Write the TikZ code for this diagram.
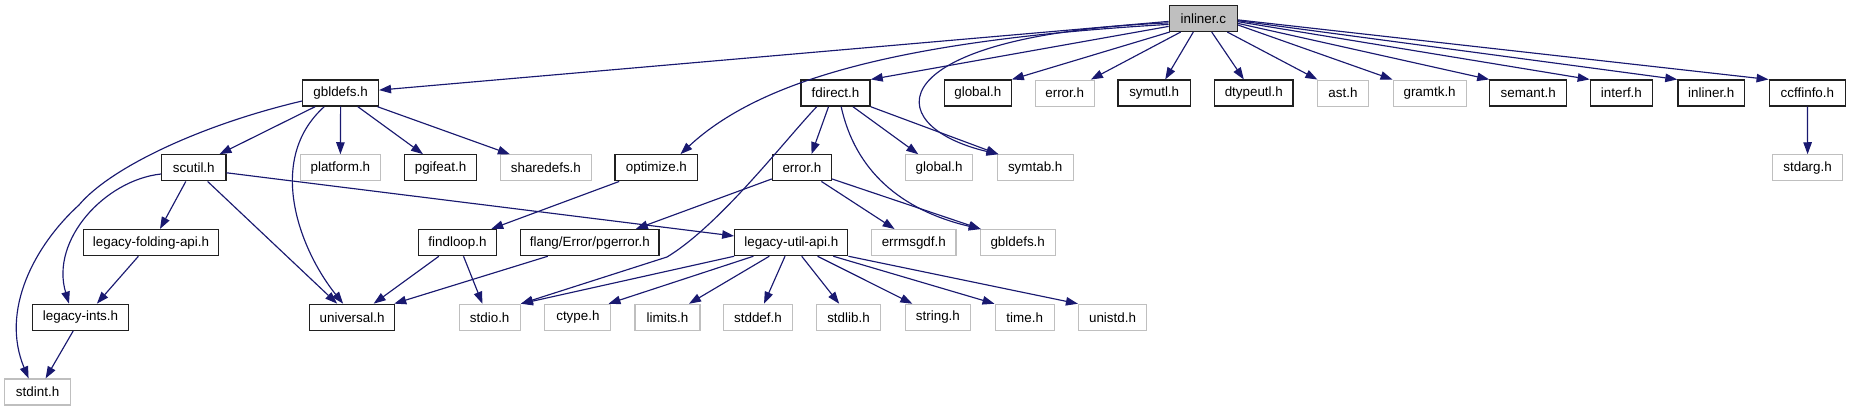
\documentclass[tikz,border=0pt]{standalone}
\usepackage{fontspec}
\setmainfont{Liberation Sans}
\usetikzlibrary{arrows.meta}
\definecolor{edgecol}{HTML}{191970}
\definecolor{greyb}{HTML}{BFBFBF}
\definecolor{darkb}{HTML}{202020}
\tikzset{
  nb/.style={draw=darkb, line width=1.3pt, rectangle, minimum height=26pt, inner sep=0pt, fill=white, font=\fontsize{13.4}{15}\selectfont},
  ng/.style={nb, draw=greyb, line width=1.1pt},
  nm/.style={nb, fill=greyb},
  dep/.style={draw=edgecol, line width=1.15pt, -{Triangle[length=12pt,width=8.5pt]}}
}
\begin{document}
\begin{tikzpicture}[x=1pt,y=-1pt]
\useasboundingbox (0,0) rectangle (1851,411);
% rank 0
\node[nm, minimum width=68pt] (inl) at (1203.3,18.4) {inliner.c};
% rank 1
\node[nb, minimum width=75.6pt] (gbl1) at (340.6,93.1) {gbldefs.h};
\node[nb, minimum width=69.2pt] (fdir) at (835.5,93.1) {fdirect.h};
\node[nb, minimum width=66.8pt] (glob1) at (977.8,93.1) {global.h};
\node[ng, minimum width=59.3pt] (err1) at (1064.7,93.1) {error.h};
\node[nb, minimum width=72.4pt] (symu) at (1154.2,93.1) {symutl.h};
\node[nb, minimum width=78.5pt] (dtyp) at (1253.8,93.1) {dtypeutl.h};
\node[ng, minimum width=50.2pt] (ast) at (1343,93.1) {ast.h};
\node[ng, minimum width=73.1pt] (gram) at (1429.6,93.1) {gramtk.h};
\node[nb, minimum width=76.8pt] (sem) at (1528.2,93.1) {semant.h};
\node[nb, minimum width=62.2pt] (intf) at (1621.4,93.1) {interf.h};
\node[nb, minimum width=66.8pt] (inlh) at (1711.3,93.1) {inliner.h};
\node[nb, minimum width=76.4pt] (ccff) at (1807.4,93.1) {ccffinfo.h};
% rank 2
\node[nb, minimum width=64.1pt] (scutil) at (193.8,167.8) {scutil.h};
\node[ng, minimum width=79.9pt] (platform) at (340.4,167.8) {platform.h};
\node[nb, minimum width=72pt] (pgifeat) at (440.5,167.8) {pgifeat.h};
\node[ng, minimum width=90.5pt] (share) at (545.9,167.8) {sharedefs.h};
\node[nb, minimum width=82.7pt] (opt) at (656.4,167.8) {optimize.h};
\node[nb, minimum width=58.9pt] (err2) at (801.9,167.8) {error.h};
\node[ng, minimum width=66.8pt] (glob2) at (939.1,167.8) {global.h};
\node[ng, minimum width=76.3pt] (symtab) at (1035.2,167.8) {symtab.h};
\node[ng, minimum width=70.2pt] (stdarg) at (1807.6,167.8) {stdarg.h};
% rank 3
\node[nb, minimum width=134.5pt] (lfold) at (151,242.6) {legacy-folding-api.h};
\node[nb, minimum width=78.2pt] (floop) at (457.5,242.6) {findloop.h};
\node[nb, minimum width=138.3pt] (pgerr) at (589.8,242.6) {flang/Error/pgerror.h};
\node[nb, minimum width=113pt] (lutil) at (791.3,242.6) {legacy-util-api.h};
\node[ng, minimum width=84.3pt] (errm) at (913.8,242.6) {errmsgdf.h};
\node[ng, minimum width=74.7pt] (gbl3) at (1017.7,242.6) {gbldefs.h};
% rank 4
\node[nb, minimum width=96.1pt] (lints) at (80.5,317.3) {legacy-ints.h};
\node[nb, minimum width=85pt] (univ) at (352.1,317.3) {universal.h};
\node[ng, minimum width=61.3pt] (stdio) at (489.7,317.3) {stdio.h};
\node[ng, minimum width=66pt] (ctype) at (577.9,317.3) {ctype.h};
\node[ng, minimum width=65pt] (limits) at (667.5,317.3) {limits.h};
\node[ng, minimum width=69.2pt] (stddef) at (758,317.3) {stddef.h};
\node[ng, minimum width=64.4pt] (stdlib) at (848.5,317.3) {stdlib.h};
\node[ng, minimum width=65.2pt] (string) at (937.9,317.3) {string.h};
\node[ng, minimum width=59.3pt] (time) at (1024.7,317.3) {time.h};
\node[ng, minimum width=68.1pt] (unistd) at (1112.5,317.3) {unistd.h};
% rank 5
\node[ng, minimum width=65.7pt] (stdint) at (37.6,392) {stdint.h};

% edges from inliner.c
\draw[dep] ([yshift=-3pt]inl.west) -- ([yshift=3pt]gbl1.east);
\draw[dep] ([yshift=-6pt]inl.west) .. controls (900,40) and (760,80) .. ([xshift=24pt]opt.north);
\draw[dep] ([yshift=-8pt]inl.west) -- (fdir.north east);
\draw[dep] ([xshift=1pt]inl.south west) -- (glob1.north east);
\draw[dep] ([xshift=12pt]inl.south west) -- ([xshift=-4pt]err1.north east);
\draw[dep] ([xshift=-10pt]inl.south) -- ([xshift=11pt]symu.north);
\draw[dep] ([yshift=-4.5pt]inl.west) .. controls (880,35) and (875,125) .. ([xshift=2pt]symtab.north west);
\draw[dep] ([xshift=8.4pt]inl.south) -- ([xshift=-10pt]dtyp.north);
\draw[dep] ([xshift=24pt]inl.south) -- (ast.north west);
\draw[dep] ([yshift=-6.6pt]inl.east) -- (gram.north west);
\draw[dep] ([yshift=-5pt]inl.east) -- (sem.north west);
\draw[dep] ([yshift=-3.3pt]inl.east) -- (intf.north west);
\draw[dep] ([yshift=-2.3pt]inl.east) -- (inlh.north west);
\draw[dep] ([yshift=-1.5pt]inl.east) -- (ccff.north west);
\draw[dep] (ccff.south) -- (stdarg.north);
% gbldefs.h
\draw[dep] ([yshift=-7.9pt]gbl1.west) .. controls (200,125) and (110,168) .. (79,205) .. controls (35,245) and (0,310) .. ([xshift=-9pt]stdint.north);
\draw[dep] ([xshift=-25.6pt]gbl1.south) -- ([xshift=25.7pt]scutil.north);
\draw[dep] ([xshift=-16.4pt]gbl1.south) .. controls (265,160) and (300,250) .. ([xshift=-9pt]univ.north);
\draw[dep] (gbl1.south) -- (platform.north);
\draw[dep] ([xshift=17.3pt]gbl1.south) -- ([xshift=-17.5pt]pgifeat.north);
\draw[dep] ([xshift=37pt]gbl1.south) -- ([xshift=-36pt]share.north);
% scutil.h
\draw[dep] ([yshift=-6.2pt]scutil.west) .. controls (105,180) and (50,240) .. ([xshift=-11.5pt]lints.north);
\draw[dep] ([xshift=-8pt]scutil.south) -- ([xshift=9pt]lfold.north);
\draw[dep] ([xshift=13.8pt]scutil.south) -- ([xshift=-15pt]univ.north);
\draw[dep] ([yshift=-5pt]scutil.east) -- ([yshift=6.6pt]lutil.west);
% legacy
\draw[dep] ([xshift=-12.6pt]lfold.south) -- ([xshift=16.4pt]lints.north);
\draw[dep] ([xshift=-7.3pt]lints.south) -- ([xshift=8pt]stdint.north);
% optimize / findloop / pgerror
\draw[dep] ([xshift=4.8pt]opt.south west) -- ([xshift=-6pt]floop.north east);
\draw[dep] ([xshift=-18.6pt]floop.south) -- ([xshift=21.6pt]univ.north);
\draw[dep] ([xshift=6pt]floop.south) -- ([xshift=-7.3pt]stdio.north);
\draw[dep] ([xshift=-42pt]pgerr.south) -- ([xshift=-1pt]univ.north east);
% fdirect.h
\draw[dep] ([xshift=-18.8pt]fdir.south) .. controls (785,140) and (720,225) .. (667,257) -- (stdio.north east);
\draw[dep] ([xshift=-7pt]fdir.south) -- ([xshift=9.6pt]err2.north);
\draw[dep] ([xshift=5.7pt]fdir.south) .. controls (855,170) and (900,210) .. ([xshift=1pt]gbl3.north west);
\draw[dep] ([xshift=17.5pt]fdir.south) -- ([xshift=-20.8pt]glob2.north);
\draw[dep] (fdir.south east) -- ([xshift=2pt]symtab.north west);
% error.h
\draw[dep] ([yshift=2.5pt]err2.south west) -- ([xshift=46pt]pgerr.north);
\draw[dep] ([xshift=19.5pt]err2.south) -- ([xshift=-19.2pt]errm.north);
\draw[dep] ([yshift=2.5pt]err2.south east) -- ([xshift=1pt]gbl3.north west);
% legacy-util-api.h
\draw[dep] (lutil.south west) -- (stdio.north east);
\draw[dep] ([xshift=-37.9pt]lutil.south) -- ([xshift=-3pt]ctype.north east);
\draw[dep] ([xshift=-22pt]lutil.south) -- ([xshift=21.5pt]limits.north);
\draw[dep] ([xshift=-6.3pt]lutil.south) -- ([xshift=6pt]stddef.north);
\draw[dep] ([xshift=10.4pt]lutil.south) -- ([xshift=-9.3pt]stdlib.north);
\draw[dep] ([xshift=26.2pt]lutil.south) -- ([xshift=-25.5pt]string.north);
\draw[dep] ([xshift=42pt]lutil.south) -- (time.north west);
\draw[dep] (lutil.south east) -- (unistd.north west);
\end{tikzpicture}
\end{document}
